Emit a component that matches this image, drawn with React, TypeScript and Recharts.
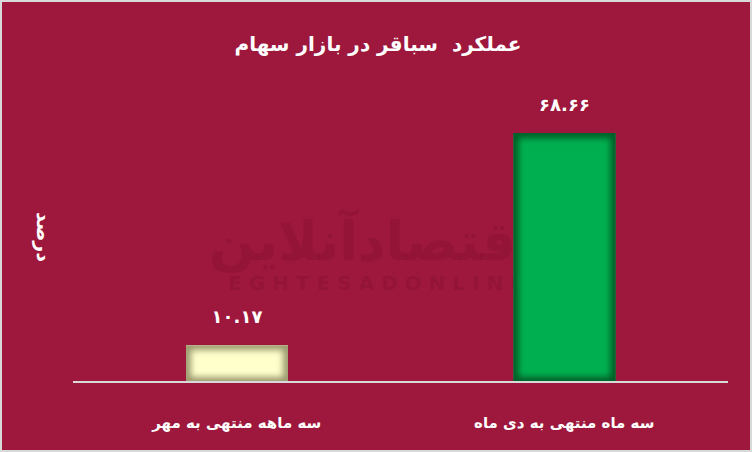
import React from "react";
import { BarChart, Bar, XAxis, YAxis, LabelList, Cell } from "recharts";

document.body.style.margin = "0";

const categories = ["سه ماهه منتهی به مهر", "سه ماه منتهی به دی ماه"];
const returns = [10.17, 68.66];
const FILLS = ["#FFFFCC", "#00B050"];
const EDGES = ["#9A9A6E", "#005C27"];

const BG = "#9E173C";
const FONT = "'DejaVu Sans', sans-serif";

const data = categories.map((name, i) => ({ name, value: returns[i] }));

const toPersian = (n: number) =>
  n
    .toFixed(2)
    .replace(/\d/g, (d) => "۰۱۲۳۴۵۶۷۸۹"[Number(d)]);

const GlowBar = (props: any) => {
  const { x, y, width, height, index } = props;
  const id = `bar-clip-${index}`;
  return (
    <g>
      <defs>
        <clipPath id={id}>
          <rect x={x} y={y} width={width} height={height} />
        </clipPath>
        <filter id={`glow-${index}`} x="-20%" y="-20%" width="140%" height="140%">
          <feGaussianBlur stdDeviation={3} />
        </filter>
      </defs>
      <rect x={x} y={y} width={width} height={height} fill={FILLS[index]} />
      <g clipPath={`url(#${id})`}>
        <rect
          x={x}
          y={y}
          width={width}
          height={height}
          fill="none"
          stroke={EDGES[index]}
          strokeWidth={10}
          filter={`url(#glow-${index})`}
        />
      </g>
    </g>
  );
};

const ValueLabel = (props: any) => {
  const { x, y, width, value } = props;
  return (
    <text
      x={x + width / 2}
      y={y - 22}
      textAnchor="middle"
      fill="#fff"
      fontFamily={FONT}
      fontWeight="bold"
      fontSize={18}
    >
      {toPersian(value)}
    </text>
  );
};

const CategoryTick = (props: any) => {
  const { x, y, payload } = props;
  return (
    <text
      x={x}
      y={y + 38}
      textAnchor="middle"
      fill="#fff"
      fontFamily={FONT}
      fontWeight="bold"
      fontSize={15}
      direction="rtl"
    >
      {payload.value}
    </text>
  );
};

export default function App() {
  return (
    <div
      style={{
        position: "relative",
        width: 752,
        height: 452,
        background: BG,
        boxSizing: "border-box",
        border: "2px solid #d9d9d9",
        overflow: "hidden",
      }}
    >
      {/* watermark */}
      <div
        dir="rtl"
        style={{
          position: "absolute",
          left: 180,
          top: 212,
          width: 380,
          textAlign: "center",
          fontFamily: FONT,
          fontWeight: "bold",
          fontSize: 54,
          lineHeight: "56px",
          color: "rgba(60,0,20,0.10)",
        }}
      >
        اقتصادآنلاین
      </div>
      <div
        style={{
          position: "absolute",
          left: 226,
          top: 270,
          fontFamily: FONT,
          fontWeight: "bold",
          fontSize: 20,
          lineHeight: "22px",
          letterSpacing: 7,
          color: "rgba(60,0,20,0.10)",
        }}
      >
        EGHTESADONLINE
      </div>
      <div
        dir="rtl"
        style={{
          position: "absolute",
          left: 0,
          top: 30,
          width: 752,
          textAlign: "center",
          fontFamily: FONT,
          fontWeight: "bold",
          fontSize: 20,
          color: "#fff",
        }}
      >
        عملکرد&nbsp; سباقر در بازار سهام
      </div>
      <div style={{ position: "absolute", left: -2, top: -2 }}>
        <BarChart
          width={752}
          height={452}
          data={data}
          margin={{ top: 92, right: 24, bottom: 40, left: 73 }}
          barSize={102}
        >
          <XAxis
            dataKey="name"
            height={30}
            axisLine={{ stroke: "#d9d9d9", strokeWidth: 2 }}
            tickLine={false}
            tick={<CategoryTick />}
            interval={0}
          />
          <YAxis hide domain={[0, 80]} />
          <Bar dataKey="value" shape={<GlowBar />} isAnimationActive={false}>
            {data.map((d, i) => (
              <Cell key={d.name} fill={FILLS[i]} />
            ))}
            <LabelList dataKey="value" content={<ValueLabel />} />
          </Bar>
        </BarChart>
      </div>
      <svg
        width={752}
        height={452}
        style={{ position: "absolute", left: -2, top: -2, pointerEvents: "none" }}
      >
        <text
          x={44}
          y={237}
          transform="rotate(90 44 237)"
          textAnchor="middle"
          dominantBaseline="central"
          fill="#fff"
          fontFamily={FONT}
          fontWeight="bold"
          fontSize={19}
          direction="rtl"
        >
          درصد
        </text>
      </svg>
    </div>
  );
}
